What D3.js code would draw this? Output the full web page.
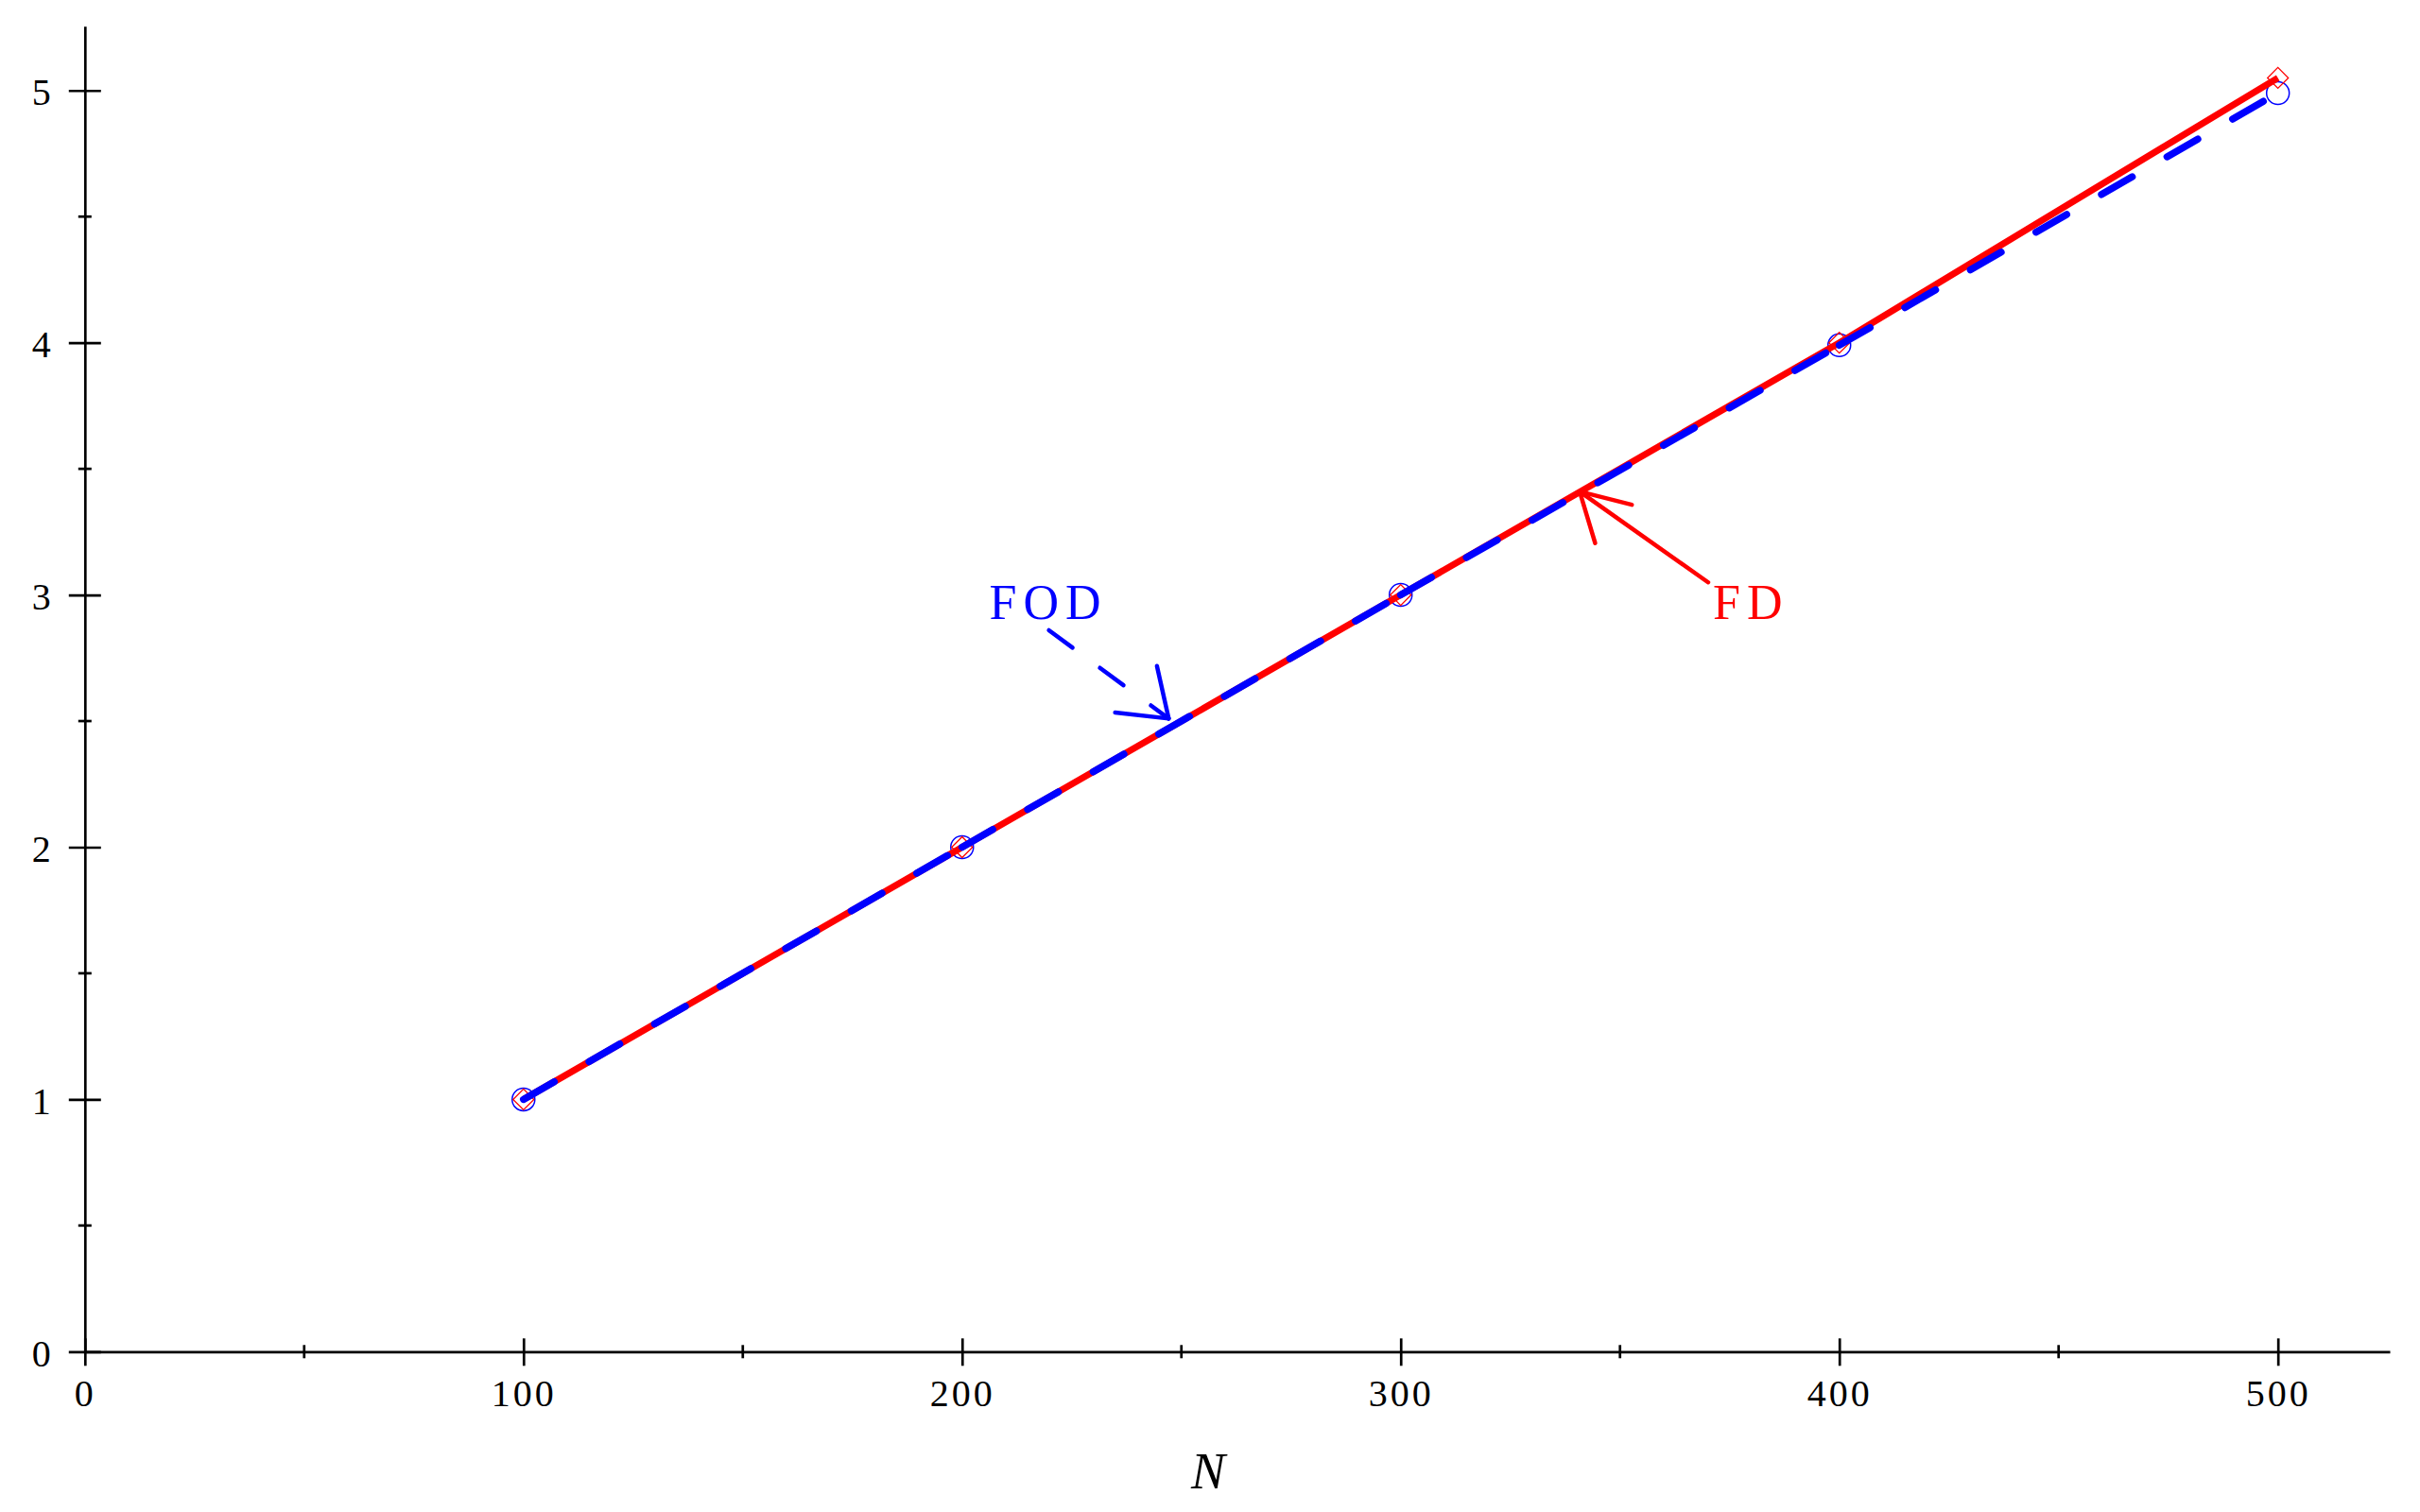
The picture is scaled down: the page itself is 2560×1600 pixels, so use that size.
<!DOCTYPE html>
<html>
<head>
<meta charset="utf-8">
<script src="https://cdn.jsdelivr.net/npm/d3@7"></script>
<style>
    body { margin: 0; background: #fff; }
    svg { display: block; }
    text { font-family: "Liberation Serif", "Times New Roman", serif; }
</style>
</head>
<body>
<div id="chart"></div>
<script>
//#region Data
const nValues = [100, 200, 300, 400, 500];
const fdValues = [1.0, 2.0, 3.0, 4.0, 5.05];
const fodValues = [1.0, 2.0, 3.0, 3.99, 4.99];

const xMajorTicks = [0, 100, 200, 300, 400, 500];
const xMinorTicks = [50, 150, 250, 350, 450];
const yMajorTicks = [0, 1, 2, 3, 4, 5];
const yMinorTicks = [0.5, 1.5, 2.5, 3.5, 4.5];

// annotation arrows: label position, tail and tip in data units
const annotations = [
    { label: "FOD", color: "#0000ff", dashed: true, lx: 206.2, ly: 2.904, tail: [219.8, 2.86], tip: [247.1, 2.51], heads: [-30, 41] },
    { label: "FD", color: "#ff0000", dashed: false, lx: 371.2, ly: 2.904, tail: [370.1, 3.05], tip: [340.8, 3.41], heads: [-21, 38] }
];
//#endregion

//#region Chart
const width = 2560, height = 1600;

const svg = d3.select("#chart")
    .append("svg")
    .attr("width", width)
    .attr("height", height);

const x = d3.scaleLinear().domain([0, 525.5]).range([89.8, 2528]);
const y = d3.scaleLinear().domain([0, 5.255]).range([1430.3, 27.7]);

// x axis
const xAxis = svg.append("g")
    .attr("transform", `translate(0,${y(0)})`)
    .call(d3.axisBottom(x).tickValues(xMajorTicks).tickSize(15).tickSizeOuter(0).tickFormat(d3.format("d")));
xAxis.selectAll(".tick line").attr("y1", -14).attr("y2", 15);
xAxis.selectAll(".tick text")
    .attr("y", 58).attr("dy", null)
    .style("font-size", "40px")
    .style("letter-spacing", "3px")
    .style("fill", "#000");

xAxis.selectAll(".minor")
    .data(xMinorTicks)
    .enter()
    .append("line")
    .attr("x1", d => x(d)).attr("x2", d => x(d))
    .attr("y1", -7).attr("y2", 7);

// y axis
const yAxis = svg.append("g")
    .attr("transform", `translate(${x(0)},0)`)
    .call(d3.axisLeft(y).tickValues(yMajorTicks).tickSize(17).tickSizeOuter(0).tickFormat(d3.format("d")));
yAxis.selectAll(".tick line").attr("x1", 17).attr("x2", -17);
yAxis.selectAll(".tick text")
    .attr("x", -36).attr("dy", "0.38em")
    .style("font-size", "40px")
    .style("fill", "#000");

yAxis.selectAll(".minor")
    .data(yMinorTicks)
    .enter()
    .append("line")
    .attr("x1", -7).attr("x2", 7)
    .attr("y1", d => y(d)).attr("y2", d => y(d));

svg.selectAll(".domain, .tick line, line")
    .attr("stroke", "#000")
    .attr("stroke-width", 2.7);

// axis title
svg.append("text")
    .attr("x", 1278)
    .attr("y", 1575)
    .style("text-anchor", "middle")
    .style("font-style", "italic")
    .style("font-size", "54px")
    .text("N");

// markers
svg.append("g")
    .selectAll("circle")
    .data(nValues)
    .enter()
    .append("circle")
    .attr("cx", d => x(d))
    .attr("cy", (d, i) => y(fodValues[i]))
    .attr("r", 12)
    .attr("fill", "none")
    .attr("stroke", "#0000ff")
    .attr("stroke-width", 1.5);

svg.append("g")
    .selectAll("path")
    .data(nValues)
    .enter()
    .append("path")
    .attr("d", d3.symbol(d3.symbolSquare, 242))
    .attr("transform", (d, i) => `translate(${x(d)},${y(fdValues[i])}) rotate(45)`)
    .attr("fill", "none")
    .attr("stroke", "#ff0000")
    .attr("stroke-width", 1.3);

// lines
const line = d3.line()
    .x(d => x(d[0]))
    .y(d => y(d[1]));

svg.append("path")
    .datum(nValues.map((n, i) => [n, fdValues[i]]))
    .attr("d", line)
    .attr("fill", "none")
    .attr("stroke", "#ff0000")
    .attr("stroke-width", 7)
    .attr("stroke-linejoin", "round");

// the dash pattern restarts at every point, so draw segment by segment
const fodPoints = nValues.map((n, i) => [n, fodValues[i]]);
svg.append("g")
    .selectAll("path")
    .data(d3.pairs(fodPoints))
    .enter()
    .append("path")
    .attr("d", d => line(d))
    .attr("fill", "none")
    .attr("stroke", "#0000ff")
    .attr("stroke-width", 7.5)
    .attr("stroke-linecap", "round")
    .attr("stroke-dasharray", "37.5,42.5");

// annotations
annotations.forEach(a => {
    const tx = x(a.tip[0]), ty = y(a.tip[1]);
    const sx = x(a.tail[0]), sy = y(a.tail[1]);
    const ang = Math.atan2(sy - ty, sx - tx);
    const headLen = 57;

    svg.append("line")
        .attr("x1", sx).attr("y1", sy)
        .attr("x2", tx).attr("y2", ty)
        .attr("stroke", a.color)
        .attr("stroke-width", 4.5)
        .attr("stroke-linecap", "round")
        .attr("stroke-dasharray", a.dashed ? "31,36" : null);

    a.heads.forEach(deg => {
        const s = deg * Math.PI / 180;
        svg.append("line")
            .attr("x1", tx).attr("y1", ty)
            .attr("x2", tx + headLen * Math.cos(ang + s))
            .attr("y2", ty + headLen * Math.sin(ang + s))
            .attr("stroke", a.color)
            .attr("stroke-width", 4.5)
            .attr("stroke-linecap", "round");
    });

    svg.append("text")
        .attr("x", x(a.lx))
        .attr("y", y(a.ly))
        .style("font-size", "52px")
        .style("letter-spacing", "7px")
        .style("fill", a.color)
        .text(a.label);
});
//#endregion
</script>
</body>
</html>
